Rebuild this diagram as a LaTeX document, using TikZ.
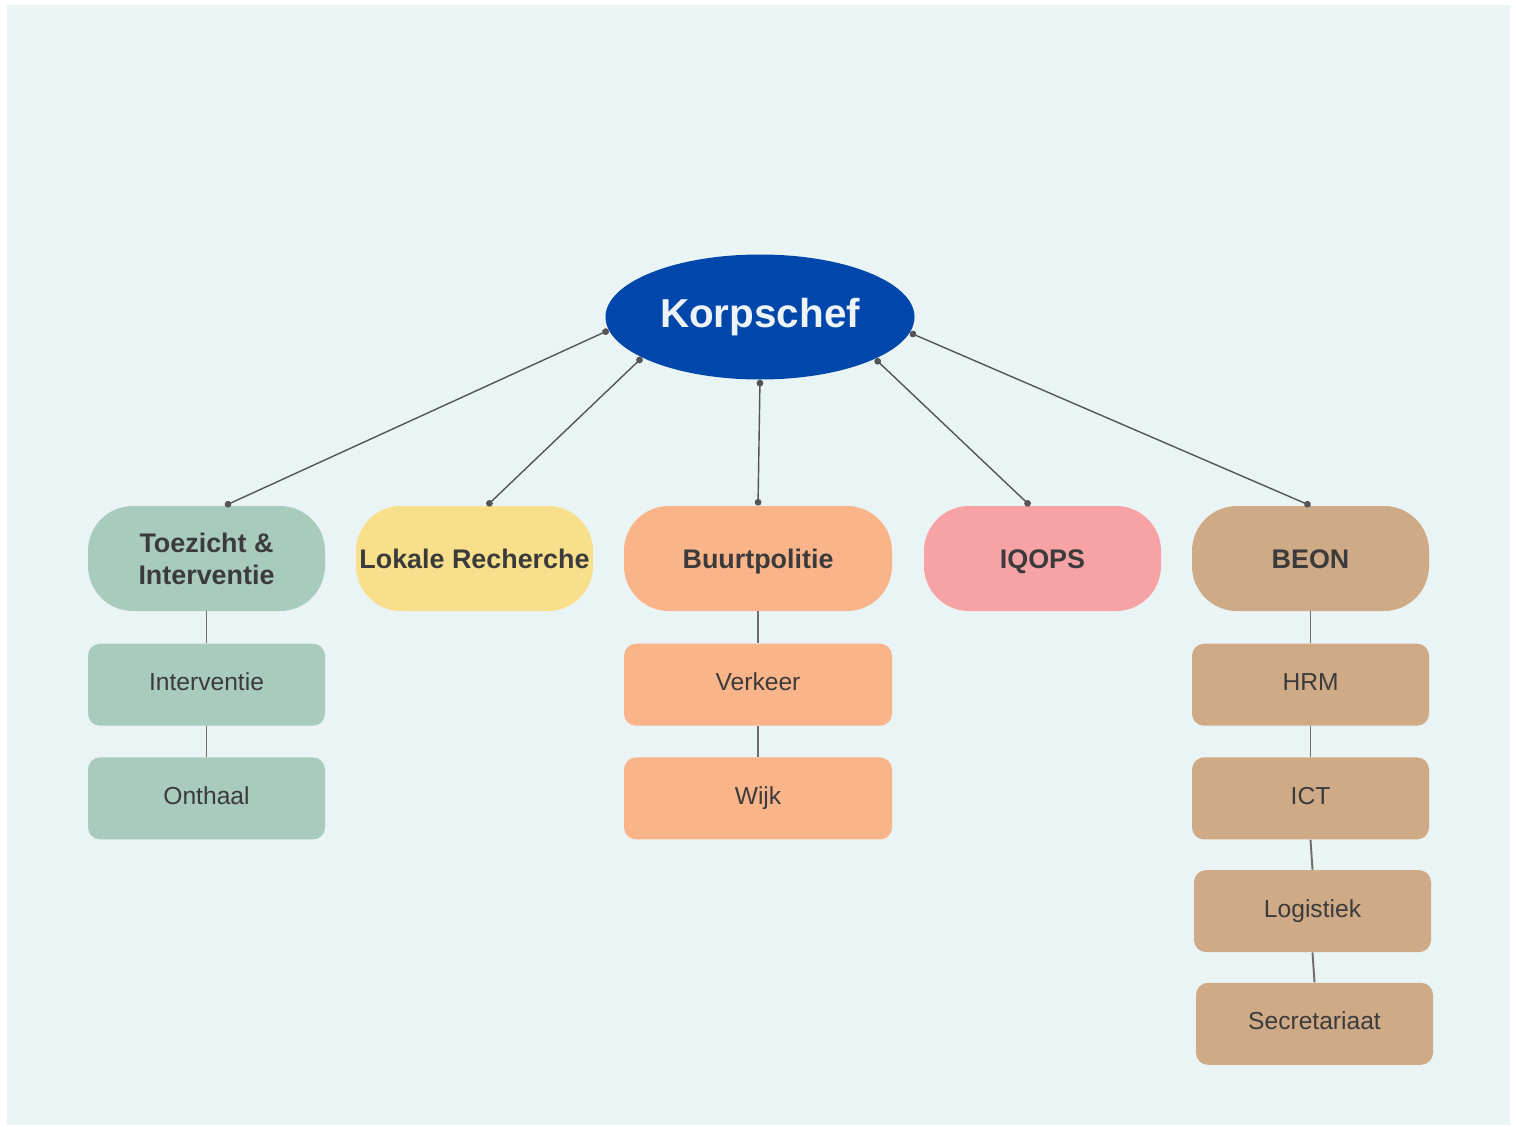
\documentclass[tikz,border=0pt]{standalone}
\usepackage{fontspec}
\setmainfont{Liberation Sans}
\usetikzlibrary{positioning,calc,shapes.geometric,arrows.meta}
\definecolor{bgblue}{HTML}{EAF4F5}
\definecolor{chefblue}{HTML}{0047AB}
\definecolor{chefink}{HTML}{EEF3F8}
\definecolor{sage}{HTML}{A8CBBD}
\definecolor{sand}{HTML}{F7DF8C}
\definecolor{peach}{HTML}{F9B48A}
\definecolor{rose}{HTML}{F7A3A5}
\definecolor{beontan}{HTML}{CFAA87}
\definecolor{ink}{HTML}{3B3B3B}
\definecolor{wire}{HTML}{555555}
\definecolor{stemgray}{HTML}{6E6E6E}

\begin{document}
\begin{tikzpicture}
    \tikzset{unit/.style={
        rounded corners=0.9cm, minimum width=4.74cm, minimum height=2.1cm, inner sep=0pt,
        align=center, text=ink, font=\fontsize{15.3}{18.2}\selectfont\bfseries
      },
      oneline/.style={text height=11pt, text depth=0pt},
      dept/.style={
        rounded corners=0.24cm, minimum width=4.74cm, minimum height=1.64cm, inner sep=0pt,
        text=ink, font=\fontsize{14}{17}\selectfont, text height=10pt, text depth=3pt
      },
      link/.style={wire, line width=0.8pt, {Circle[length=3.8pt]}-{Circle[length=3.8pt]}},
      stem/.style={stemgray, line width=1.1pt}
    }

    \fill[white] (0,0) rectangle (30.32,-22.52);
    \fill[bgblue] (0.14,-0.10) rectangle (30.20,-22.50);

    \node[ellipse, fill=chefblue, minimum width=6.18cm, minimum height=2.5cm, inner sep=0pt,
      text=chefink, font=\fontsize{23}{27}\selectfont\bfseries] (K) at (15.2,-6.34) {Korpschef};

    \node[unit, fill=sage] (T) at (4.13,-11.17) {Toezicht \&\\Interventie};
    \node[unit, oneline, fill=sand] (L) at (9.49,-11.17) {Lokale Recherche};
    \node[unit, oneline, fill=peach, minimum width=5.36cm] (B) at (15.16,-11.17) {Buurtpolitie};
    \node[unit, oneline, fill=rose] (Q) at (20.85,-11.17) {IQOPS};
    \node[unit, oneline, fill=beontan] (E) at (26.21,-11.17) {BEON};

    \node[dept, fill=sage] (T1) [below=0.64cm of T] {Interventie};
    \node[dept, fill=sage] (T2) [below=0.62cm of T1] {Onthaal};

    \node[dept, fill=peach, minimum width=5.36cm] (B1) [below=0.64cm of B] {Verkeer};
    \node[dept, fill=peach, minimum width=5.36cm] (B2) [below=0.62cm of B1] {Wijk};

    \node[dept, fill=beontan] (E1) [below=0.64cm of E] {HRM};
    \node[dept, fill=beontan] (E2) [below=0.62cm of E1] {ICT};
    \node[dept, fill=beontan] (E3) [below=0.6cm of E2, xshift=0.04cm] {Logistiek};
    \node[dept, fill=beontan] (E4) [below=0.6cm of E3, xshift=0.04cm] {Secretariaat};

    \draw[link] (K.185) -- ($(T.north)+(0.37,0)$);
    \draw[link] (K.199) -- ($(L.north)+(0.25,0)$);
    \draw[link] (K.270) -- (B.north);
    \draw[link] (K.340) -- ($(Q.north)+(-0.25,0)$);
    \draw[link] (K.354.5) -- (E.north);

    \draw[stem] (T.south) -- (T1.north);
    \draw[stem] (T1.south) -- (T2.north);
    \draw[stem] (B.south) -- (B1.north);
    \draw[stem] (B1.south) -- (B2.north);
    \draw[stem] (E.south) -- (E1.north);
    \draw[stem] (E1.south) -- (E2.north);
    \draw[stem] (E2.south) -- (E3.north);
    \draw[stem] (E3.south) -- (E4.north);
  \end{tikzpicture}
\end{document}
